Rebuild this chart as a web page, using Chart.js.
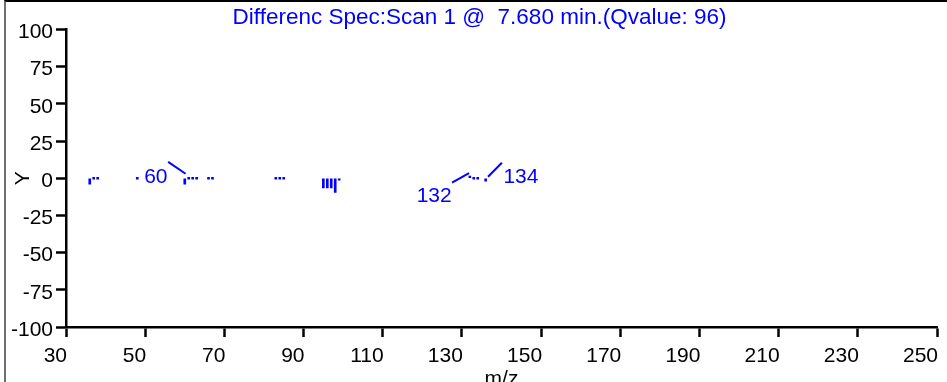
<!DOCTYPE html>
<html>
<head>
<meta charset="utf-8">
<script src="https://cdn.jsdelivr.net/npm/chart.js@4.4.1/dist/chart.umd.min.js"></script>
<style>
html, body { margin: 0; background: #fff; overflow: hidden; }
#wrap { position: relative; width: 947px; height: 382px; overflow: hidden; }
#frame { position: absolute; left: 4px; top: 0; width: 960px; height: 400px; border-left: 2px solid #707070; border-top: 2px solid #000; pointer-events: none; }
</style>
</head>
<body>
<div id="wrap">
<canvas id="spec" width="959" height="382"></canvas>
<div id="frame"></div>
</div>
<script>
var titleText = "Differenc Spec:Scan 1 @  7.680 min.(Qvalue: 96)";

// peaks (m/z, difference intensity)
var mz = [36, 37, 38, 48, 60, 61, 62, 63, 66, 67, 83, 84, 85, 95, 96, 97, 98, 99, 132, 133, 134, 136];
var intensity = [-4, 0, 0, 0, -4, 0, 0, 0, 0, 0, 0, 0, 0, -6.5, -6.5, -6.5, -9.5, -1, 1.5, 0, 0, -2];

// peak labels and their leader lines
var labelText = ["60", "132", "134"];
var labelMz = [52.7, 123, 144.9];
var labelY = [0.7, -12.1, 0.7];
var leaderMz = [[55.8, 60.2], [127.5, 131.8], [136.6, 140.1]];
var leaderY = [[11, 3], [-3, 3.4], [1, 10.4]];

var xMin = 30, xMax = 250, xStep = 20;
var yMin = -100, yMax = 100, yStep = 25;

var blue = "#0000ff";
var fontFamily = '"Liberation Sans", Arial, sans-serif';

var peakLabels = {
    id: "peakLabels",
    afterDatasetsDraw: function(chart) {
        var ctx = chart.ctx;
        var xs = chart.scales.x;
        var ys = chart.scales.y;
        ctx.save();
        ctx.fillStyle = blue;
        ctx.font = "21px " + fontFamily;
        ctx.textAlign = "center";
        ctx.textBaseline = "middle";
        for (var i = 0; i < labelText.length; i++) {
            ctx.fillText(labelText[i], xs.getPixelForValue(labelMz[i]), ys.getPixelForValue(labelY[i]));
        }
        ctx.restore();
    }
};

function buildDatasets() {
    var sticks = [];
    for (var i = 0; i < mz.length; i++) {
        sticks.push({x: mz[i], y: intensity[i]});
    }
    var sets = [{
        type: "bar",
        data: sticks,
        backgroundColor: blue,
        barThickness: 2,
        minBarLength: 2
    }];
    for (var j = 0; j < leaderMz.length; j++) {
        sets.push({
            type: "line",
            data: [{x: leaderMz[j][0], y: leaderY[j][0]}, {x: leaderMz[j][1], y: leaderY[j][1]}],
            borderColor: blue,
            borderWidth: 2,
            pointRadius: 0
        });
    }
    return sets;
}

function drawSpectrum() {
    var ctx = document.getElementById("spec").getContext("2d");
    var tickFont = {family: fontFamily, size: 21};
    new Chart(ctx, {
        type: "bar",
        data: {datasets: buildDatasets()},
        options: {
            responsive: false,
            animation: false,
            devicePixelRatio: 1,
            plugins: {
                legend: {display: false},
                tooltip: {enabled: false},
                title: {
                    display: true,
                    text: titleText,
                    color: blue,
                    font: {family: fontFamily, size: 22.5, weight: "normal"},
                    padding: {top: 4, bottom: -1.5}
                }
            },
            scales: {
                x: {
                    type: "linear",
                    min: xMin,
                    max: xMax,
                    offset: false,
                    ticks: {stepSize: xStep, align: "end", padding: 7, labelOffset: 1, color: "#000", font: tickFont},
                    grid: {offset: false, drawOnChartArea: false, tickLength: 10, tickWidth: 2.5, tickColor: "#000"},
                    border: {color: "#000", width: 2.5},
                    title: {display: true, text: "m/z", color: "#000", font: tickFont, padding: {top: 0, bottom: -10}},
                    afterFit: function(s) { s.height = 55; s.paddingRight = 22; }
                },
                y: {
                    min: yMin,
                    max: yMax,
                    ticks: {stepSize: yStep, padding: 3, labelOffset: 3, color: "#000", font: tickFont},
                    grid: {drawOnChartArea: false, tickLength: 10, tickWidth: 2.5, tickColor: "#000"},
                    border: {color: "#000", width: 2.5},
                    title: {display: true, text: "Y", color: "#000", font: tickFont, padding: {top: 11, bottom: 0}},
                    afterFit: function(s) { s.width = 66; }
                }
            }
        },
        plugins: [peakLabels]
    });
}

drawSpectrum();
</script>
</body>
</html>
